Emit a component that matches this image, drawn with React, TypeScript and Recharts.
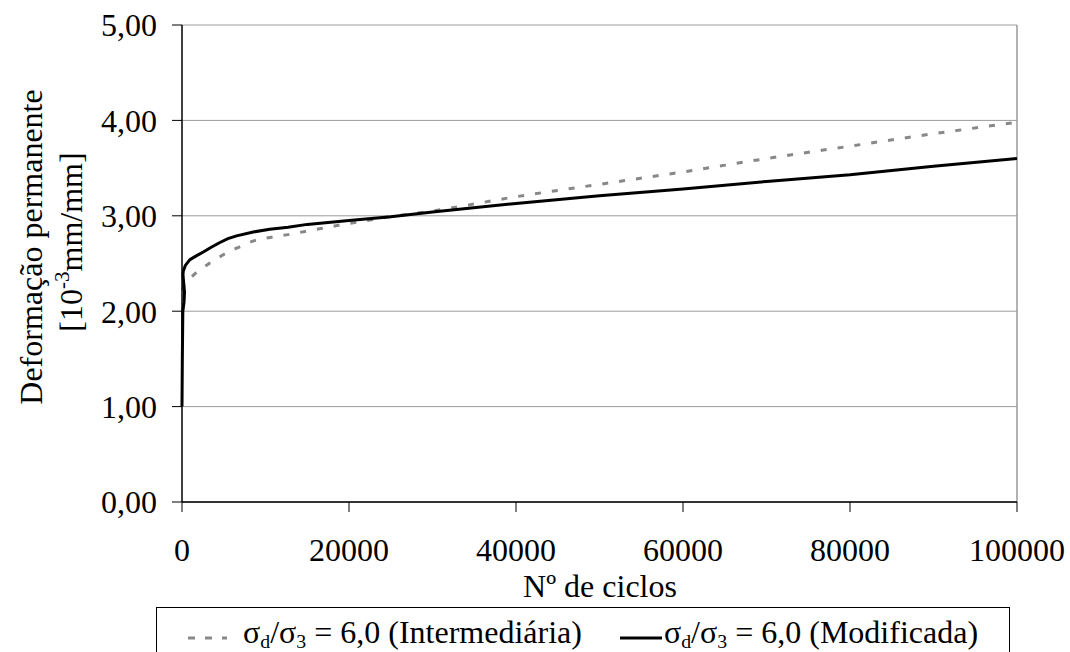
import { LineChart, Line, XAxis, YAxis, CartesianGrid, ReferenceLine } from 'recharts';

// Nº de ciclos x deformação permanente, σd/σ3 = 6,0
const xTicks = [0, 20000, 40000, 60000, 80000, 100000];
const yTicks = [0, 1, 2, 3, 4, 5];

const intermCycles = [100, 150, 360, 700, 1160, 1900, 2750, 3600, 4540, 5500, 6530, 8330, 10300, 12500, 15000, 20000, 25000, 30000, 40000, 50000, 60000, 70000, 80000, 90000, 100000];
const intermValues = [2.22, 2.25, 2.29, 2.32, 2.36, 2.42, 2.47, 2.52, 2.57, 2.62, 2.66, 2.73, 2.77, 2.80, 2.84, 2.92, 2.99, 3.05, 3.20, 3.33, 3.46, 3.60, 3.73, 3.86, 3.98];

const modifCycles = [0, 40, 100, 250, 300, 200, 120, 150, 400, 950, 1700, 2550, 3500, 4540, 5500, 6530, 8530, 10500, 12700, 15000, 20000, 25000, 30000, 40000, 50000, 60000, 70000, 80000, 90000, 100000];
const modifValues = [1.00, 1.50, 2.00, 2.10, 2.20, 2.30, 2.38, 2.42, 2.48, 2.54, 2.58, 2.62, 2.67, 2.72, 2.76, 2.79, 2.83, 2.86, 2.88, 2.91, 2.95, 2.99, 3.04, 3.13, 3.21, 3.28, 3.36, 3.43, 3.52, 3.60];

const intermData = intermCycles.map((n, i) => ({ n, v: intermValues[i] }));
const modifData = modifCycles.map((n, i) => ({ n, v: modifValues[i] }));

const FONT = '"Liberation Serif", "Times New Roman", serif';
const fmtY = (v: number) => v.toFixed(2).replace('.', ',');

const YTitle = () => (
  <g fontFamily={FONT} fontSize={32} fill="#000">
    <text x={42} y={247} transform="rotate(-90, 42, 247)" textAnchor="middle">
      Deformação permanente
    </text>
    <text x={82} y={242} transform="rotate(-90, 82, 242)" textAnchor="middle">
      [10<tspan dy={-13} fontSize={21}>-3</tspan>
      <tspan dy={13}>mm/mm]</tspan>
    </text>
  </g>
);

const XTitle = () => (
  <text x={600} y={597} textAnchor="middle" fontFamily={FONT} fontSize={32} fill="#000">
    Nº de ciclos
  </text>
);

const Sigma = () => (
  <span>
    σ<sub style={{ fontSize: '0.62em', verticalAlign: '-0.25em' }}>d</sub>/σ
    <sub style={{ fontSize: '0.62em', verticalAlign: '-0.25em' }}>3</sub>
  </span>
);

export default function App() {
  return (
    <div style={{ position: 'absolute', left: 0, top: 0, width: 1070, height: 652, background: '#fff', overflow: 'hidden' }}>
      <LineChart width={1070} height={652} data={modifData} margin={{ top: 25, right: 53, left: 0, bottom: 50 }}>
        <CartesianGrid vertical={false} stroke="#9a9a9a" />
        <XAxis
          type="number"
          dataKey="n"
          domain={[0, 100000]}
          ticks={xTicks}
          height={100}
          tickSize={10}
          tickMargin={26}
          tick={{ fill: '#000', fontSize: 32, fontFamily: FONT }}
          axisLine={{ stroke: '#000', strokeWidth: 1.5 }}
          tickLine={{ stroke: '#000' }}
          label={<XTitle />}
        />
        <YAxis
          type="number"
          domain={[0, 5]}
          ticks={yTicks}
          width={182}
          tickSize={10}
          tickMargin={15}
          tickFormatter={fmtY}
          tick={{ fill: '#000', fontSize: 32, fontFamily: FONT }}
          axisLine={{ stroke: '#000', strokeWidth: 1.5 }}
          tickLine={{ stroke: '#000' }}
          label={<YTitle />}
        />
        <ReferenceLine x={100000} stroke="#9a9a9a" strokeWidth={1.5} />
        <Line
          data={intermData}
          dataKey="v"
          type="monotone"
          stroke="#888"
          strokeWidth={3}
          strokeDasharray="6 11"
          dot={false}
          activeDot={false}
          isAnimationActive={false}
        />
        <Line
          data={modifData}
          dataKey="v"
          type="linear"
          stroke="#000"
          strokeWidth={3}
          dot={false}
          activeDot={false}
          isAnimationActive={false}
        />
      </LineChart>
      <div
        style={{
          position: 'absolute',
          left: 156,
          top: 607,
          width: 854,
          height: 60,
          border: '1px solid #000',
          boxSizing: 'border-box',
          fontFamily: FONT,
          fontSize: 32,
          color: '#000',
          display: 'flex',
          alignItems: 'flex-start',
          paddingTop: 6,
          paddingLeft: 30,
          lineHeight: '36px',
          whiteSpace: 'nowrap',
        }}
      >
        <svg width={40} height={36} style={{ flex: 'none' }}>
          <line x1={1} y1={24} x2={40} y2={24} stroke="#888" strokeWidth={3} strokeDasharray="7 10" />
        </svg>
        <span style={{ marginLeft: 16 }}>
          <Sigma /> = 6,0 (Intermediária)
        </span>
        <svg width={42} height={36} style={{ flex: 'none', marginLeft: 38 }}>
          <line x1={0} y1={24} x2={42} y2={24} stroke="#000" strokeWidth={3} />
        </svg>
        <span style={{ marginLeft: 2 }}>
          <Sigma /> = 6,0 (Modificada)
        </span>
      </div>
    </div>
  );
}
